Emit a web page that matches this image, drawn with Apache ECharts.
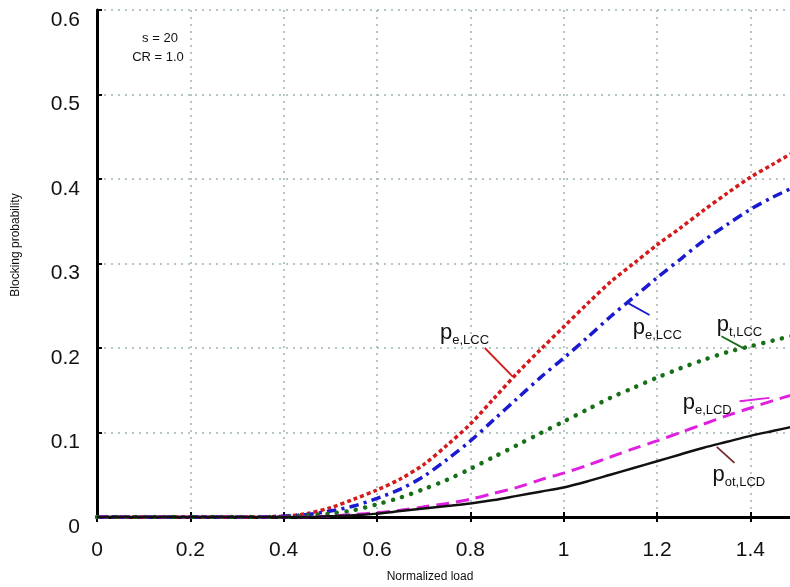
<!DOCTYPE html>
<html>
<head>
<meta charset="utf-8">
<script src="https://cdn.jsdelivr.net/npm/echarts@6/dist/echarts.min.js"></script>
<style>
html,body{margin:0;padding:0;background:#fff;overflow:hidden;}
#main{width:800px;height:587px;}
</style>
</head>
<body>
<div id="main"></div>
<script>
// Normalized load values
const loads = [0,0.05,0.1,0.15,0.2,0.25,0.3,0.35,0.4,0.45,0.5,0.55,0.6,0.65,0.7,0.75,0.8,0.85,0.9,0.95,1.0,1.05,1.1,1.15,1.2,1.25,1.3,1.35,1.4,1.45,1.5];
// Series values (blocking probability)
const peLCC  = [0,0,0,0,0,0,0,0,0.001,0.004,0.011,0.021,0.032,0.045,0.062,0.085,0.110,0.140,0.170,0.198,0.225,0.252,0.278,0.300,0.322,0.342,0.363,0.383,0.402,0.418,0.434];
const pcLCC  = [0,0,0,0,0,0,0,0,0.001,0.003,0.007,0.013,0.022,0.033,0.048,0.068,0.090,0.115,0.140,0.165,0.188,0.212,0.237,0.260,0.283,0.305,0.327,0.346,0.364,0.379,0.392];
const ptLCC  = [0,0,0,0,0,0,0,0,0,0.002,0.004,0.008,0.015,0.023,0.033,0.044,0.057,0.071,0.085,0.099,0.113,0.127,0.141,0.153,0.165,0.176,0.186,0.195,0.202,0.209,0.216];
const peLCD  = [0,0,0,0,0,0,0,0,0,0,0.001,0.003,0.005,0.008,0.012,0.016,0.021,0.028,0.035,0.044,0.052,0.061,0.071,0.081,0.090,0.100,0.110,0.120,0.129,0.138,0.146];
const potLCD = [0,0,0,0,0,0,0,0,0,0,0.001,0.002,0.004,0.007,0.010,0.013,0.016,0.020,0.025,0.030,0.035,0.042,0.050,0.058,0.066,0.074,0.082,0.089,0.096,0.102,0.108];
// Tick labels
const xTicks = [0,0.2,0.4,0.6,0.8,1,1.2,1.4];
const yTicks = [0,0.1,0.2,0.3,0.4,0.5,0.6];

const pairs = ys => loads.map((x,i)=>[x, ys[i]]);
const FONT = '"Liberation Sans", Arial, sans-serif';

const chart = echarts.init(document.getElementById('main'));

const gridLine = {show:true, lineStyle:{color:'#9fb3b3', width:1.5, type:[2,5]}};

const option = {
  animation:false,
  backgroundColor:'#fff',
  grid:{left:97, top:10, right:2.7, bottom:70, containLabel:false},
  xAxis:[{
    type:'value', min:0, max:1.5, interval:0.2,
    axisLine:{show:true, onZero:false, lineStyle:{color:'#000', width:3}},
    axisTick:{show:true, inside:true, length:5, lineStyle:{color:'#000', width:2}},
    splitLine:gridLine,
    axisLabel:{color:'#111', fontSize:21, fontFamily:FONT, margin:23,
      formatter:v => xTicks.includes(+v.toFixed(2)) ? String(+v.toFixed(2)) : ''}
  },{
    type:'value', min:0, max:1.5, interval:0.2, position:'top',
    axisLine:{show:true, lineStyle:{color:'#000', width:3}},
    axisTick:{show:true, inside:true, length:5, lineStyle:{color:'#000', width:2}},
    splitLine:{show:false}, axisLabel:{show:false}
  }],
  yAxis:[{
    type:'value', min:0, max:0.6, interval:0.1,
    axisLine:{show:true, onZero:false, lineStyle:{color:'#000', width:3}},
    axisTick:{show:true, inside:true, length:5, lineStyle:{color:'#000', width:2}},
    splitLine:gridLine,
    axisLabel:{color:'#111', fontSize:21, fontFamily:FONT, margin:17, verticalAlign:'top', lineHeight:20,
      formatter:v => { const r = +v.toFixed(2); return yTicks.includes(r) ? String(r) : ''; }}
  }],
  series:[
    {name:'pe,LCC', type:'line', data:pairs(peLCC), showSymbol:false, smooth:0.3,
      lineStyle:{color:'#d41a1a', width:3.5, type:[4,3]}, z:5},
    {name:'pc,LCC', type:'line', data:pairs(pcLCC), showSymbol:false, smooth:0.3,
      lineStyle:{color:'#1a1ad0', width:3.5, type:[10,5,3,5]}, z:5},
    {name:'pt,LCC', type:'line', data:pairs(ptLCC), showSymbol:false, smooth:0.3,
      lineStyle:{color:'#177017', width:4.5, type:[0.1,9.5], cap:'round'}, z:5},
    {name:'pe,LCD', type:'line', data:pairs(peLCD), showSymbol:false, smooth:0.3,
      lineStyle:{color:'#e020e0', width:3, type:[13,7]}, z:5},
    {name:'pot,LCD', type:'line', data:pairs(potLCD), showSymbol:false, smooth:0.3,
      lineStyle:{color:'#111', width:2.5}, z:6}
  ]
};
chart.setOption(option);

// Curve annotations (data coordinates)
const labels = [
  {sub:'e,LCC', at:[0.735,0.218], line:[[0.831,0.200],[0.891,0.166]], color:'#d41a1a'},
  {sub:'e,LCC', at:[1.148,0.224], line:[[1.135,0.254],[1.184,0.239]], color:'#1a1ad0'},
  {sub:'t,LCC', at:[1.328,0.227], line:[[1.338,0.214],[1.388,0.199]], color:'#177017'},
  {sub:'e,LCD', at:[1.255,0.135], line:[[1.377,0.137],[1.441,0.141]], color:'#e020e0'},
  {sub:'ot,LCD', at:[1.319,0.050], line:[[1.328,0.083],[1.366,0.064]], color:'#7a2a2a'}
];
const px = p => chart.convertToPixel({xAxisIndex:0, yAxisIndex:0}, p);
const graphics = [];
labels.forEach(l => {
  const a = px(l.at), s = px(l.line[0]), e = px(l.line[1]);
  graphics.push({type:'line', shape:{x1:s[0], y1:s[1], x2:e[0], y2:e[1]},
    style:{stroke:l.color, lineWidth:1.8}, z:10});
  graphics.push({type:'text', x:a[0], y:a[1], z:10,
    style:{text:'{p|p}{s|' + l.sub + '}', textVerticalAlign:'middle', textAlign:'left',
      rich:{p:{fontSize:22, fontFamily:FONT, fill:'#111', verticalAlign:'bottom'},
            s:{fontSize:13, fontFamily:FONT, fill:'#111', verticalAlign:'bottom', padding:[0,0,-3,0]}}}});
});
graphics.push({type:'text', x:160, y:38, z:10,
  style:{text:'s = 20', font:'13px ' + FONT, fill:'#111', textAlign:'center', textVerticalAlign:'middle'}});
graphics.push({type:'text', x:158, y:57, z:10,
  style:{text:'CR = 1.0', font:'13px ' + FONT, fill:'#111', textAlign:'center', textVerticalAlign:'middle'}});
graphics.push({type:'text', x:430, y:577, z:10,
  style:{text:'Normalized load', font:'12px ' + FONT, fill:'#111', textAlign:'center', textVerticalAlign:'middle'}});
graphics.push({type:'text', x:16, y:245, rotation:Math.PI/2, z:10,
  style:{text:'Blocking probability', font:'12px ' + FONT, fill:'#111', textAlign:'center', textVerticalAlign:'middle'}});
chart.setOption({graphic:graphics});
</script>
</body>
</html>
